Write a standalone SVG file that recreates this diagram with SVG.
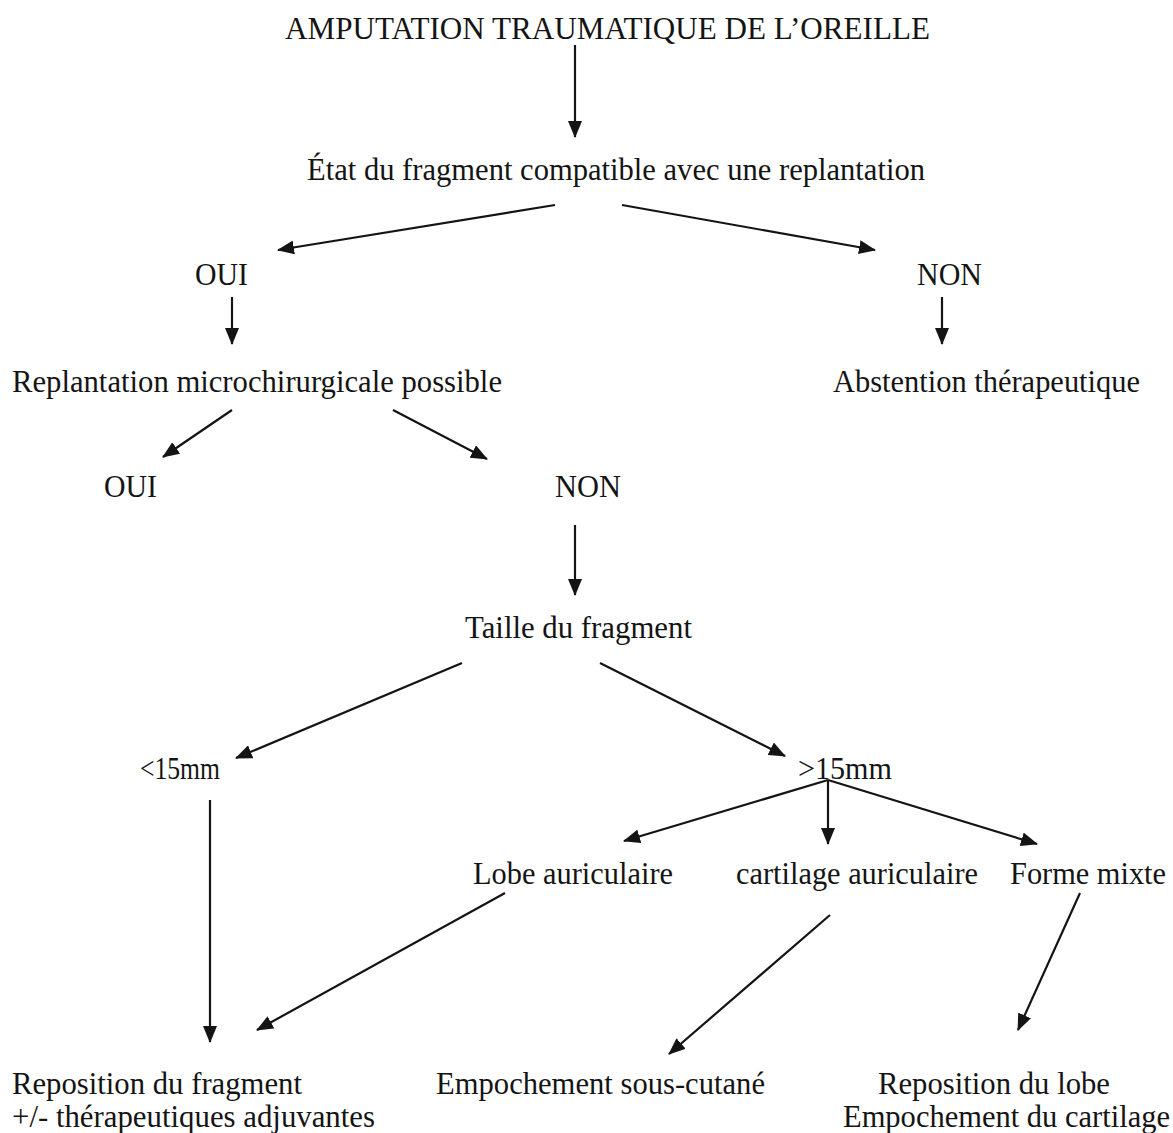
<svg xmlns="http://www.w3.org/2000/svg" width="1173" height="1133" viewBox="0 0 1173 1133">
<style>
text{font-family:"Liberation Serif","Times New Roman",serif;font-size:31px;fill:#141414}
.c line{stroke:#141414;stroke-width:2.2;marker-end:url(#ah)}
</style>
<defs>
<marker id="ah" markerUnits="userSpaceOnUse" markerWidth="17" markerHeight="14" refX="16" refY="7" orient="auto">
<path d="M0,0 L17,7 L0,14 Z" fill="#141414"/>
</marker>
</defs>
<rect width="1173" height="1133" fill="#fff"/>
<g id="n-title"><text x="285" y="39" textLength="645" lengthAdjust="spacingAndGlyphs">AMPUTATION TRAUMATIQUE DE L’OREILLE</text></g>
<g id="n-etat"><text x="307" y="180" textLength="618" lengthAdjust="spacingAndGlyphs">État du fragment compatible avec une replantation</text></g>
<g id="n-oui1"><text x="195" y="285" textLength="53" lengthAdjust="spacingAndGlyphs">OUI</text></g>
<g id="n-non1"><text x="917" y="285" textLength="65" lengthAdjust="spacingAndGlyphs">NON</text></g>
<g id="n-replant"><text x="12" y="392" textLength="490" lengthAdjust="spacingAndGlyphs">Replantation microchirurgicale possible</text></g>
<g id="n-abst"><text x="833" y="392" textLength="307" lengthAdjust="spacingAndGlyphs">Abstention thérapeutique</text></g>
<g id="n-oui2"><text x="104" y="497" textLength="53" lengthAdjust="spacingAndGlyphs">OUI</text></g>
<g id="n-non2"><text x="555" y="497" textLength="66" lengthAdjust="spacingAndGlyphs">NON</text></g>
<g id="n-taille"><text x="465" y="638" textLength="227" lengthAdjust="spacingAndGlyphs">Taille du fragment</text></g>
<g id="n-lt15"><text x="140" y="779" textLength="80" lengthAdjust="spacingAndGlyphs">&lt;15mm</text></g>
<g id="n-gt15"><text x="798" y="779" textLength="94" lengthAdjust="spacingAndGlyphs">&gt;15mm</text></g>
<g id="n-lobe"><text x="473" y="884" textLength="200" lengthAdjust="spacingAndGlyphs">Lobe auriculaire</text></g>
<g id="n-cart"><text x="736" y="884" textLength="242" lengthAdjust="spacingAndGlyphs">cartilage auriculaire</text></g>
<g id="n-mixte"><text x="1010" y="884" textLength="156" lengthAdjust="spacingAndGlyphs">Forme mixte</text></g>
<g id="n-repfrag"><text x="12" y="1094" textLength="290" lengthAdjust="spacingAndGlyphs">Reposition du fragment</text><text x="12" y="1127" textLength="363" lengthAdjust="spacingAndGlyphs">+/- thérapeutiques adjuvantes</text></g>
<g id="n-empoch"><text x="436" y="1094" textLength="329" lengthAdjust="spacingAndGlyphs">Empochement sous-cutané</text></g>
<g id="n-replobe"><text x="878" y="1094" textLength="232" lengthAdjust="spacingAndGlyphs">Reposition du lobe</text><text x="843" y="1127" textLength="327" lengthAdjust="spacingAndGlyphs">Empochement du cartilage</text></g>
<g id="connectors" class="c">
<line x1="575" y1="45" x2="575" y2="137"/>
<line x1="555" y1="205" x2="278" y2="250"/>
<line x1="622" y1="205" x2="875" y2="250"/>
<line x1="232" y1="297" x2="232" y2="344"/>
<line x1="942" y1="297" x2="942" y2="344"/>
<line x1="232" y1="410" x2="163" y2="457"/>
<line x1="393" y1="410" x2="487" y2="459"/>
<line x1="575" y1="525" x2="575" y2="595"/>
<line x1="462" y1="663" x2="236" y2="758"/>
<line x1="600" y1="663" x2="785" y2="756"/>
<line x1="828" y1="780" x2="624" y2="841"/>
<line x1="828" y1="780" x2="828" y2="844"/>
<line x1="828" y1="780" x2="1037" y2="844"/>
<line x1="210" y1="800" x2="210" y2="1042"/>
<line x1="505" y1="893" x2="257" y2="1030"/>
<line x1="830" y1="915" x2="669" y2="1054"/>
<line x1="1080" y1="893" x2="1018" y2="1030"/>
</g>
</svg>
